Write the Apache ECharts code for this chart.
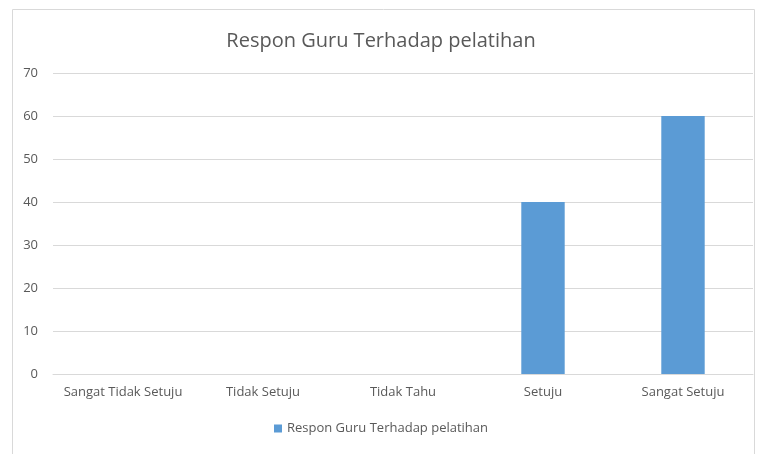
<!DOCTYPE html>
<html><head><meta charset="utf-8">
<script src="https://cdn.jsdelivr.net/npm/echarts@6/dist/echarts.min.js"></script>
<style>html,body{margin:0;padding:0;background:#fff}#c{width:762px;height:454px}</style>
</head><body><div id="c"></div>
<script>
const categories = ["Sangat Tidak Setuju", "Tidak Setuju", "Tidak Tahu", "Setuju", "Sangat Setuju"];
const values = [0, 0, 0, 40, 60];
const seriesName = "Respon Guru Terhadap pelatihan";
const chartTitle = "Respon Guru Terhadap pelatihan";
const yTicks = { min: 0, max: 70, interval: 10 };

const chart = echarts.init(document.getElementById('c'));
const font = '"Open Sans", sans-serif';
chart.setOption({
  animation: false,
  graphic: [{ type: 'rect', shape: { x: 12.5, y: 9.5, width: 742, height: 460 }, style: { fill: 'none', stroke: '#d9d9d9', lineWidth: 1 } }],
  title: { text: chartTitle, left: 'center', top: 26, textStyle: { fontFamily: font, fontSize: 20, fontWeight: 'normal', color: '#595959' } },
  legend: { bottom: 14, left: 'center', itemWidth: 8, itemHeight: 8, icon: 'rect', itemGap: 6,
    textStyle: { fontFamily: font, fontSize: 13, color: '#595959' } },
  grid: { left: 53, right: 9, top: 73, bottom: 80 },
  xAxis: { type: 'category', data: categories,
    axisLine: { lineStyle: { color: '#d9d9d9' } }, axisTick: { show: false },
    axisLabel: { interval: 0, hideOverlap: false, fontFamily: font, fontSize: 13, color: '#595959', margin: 12 } },
  yAxis: { type: 'value', min: yTicks.min, max: yTicks.max, interval: yTicks.interval,
    axisLine: { show: false }, axisTick: { show: false },
    splitLine: { lineStyle: { color: '#d9d9d9' } },
    axisLabel: { fontFamily: font, fontSize: 13, color: '#595959', margin: 15 } },
  series: [{ name: seriesName, type: 'bar', data: values, barWidth: '31%', itemStyle: { color: '#5b9bd5' } }]
});
</script></body></html>
